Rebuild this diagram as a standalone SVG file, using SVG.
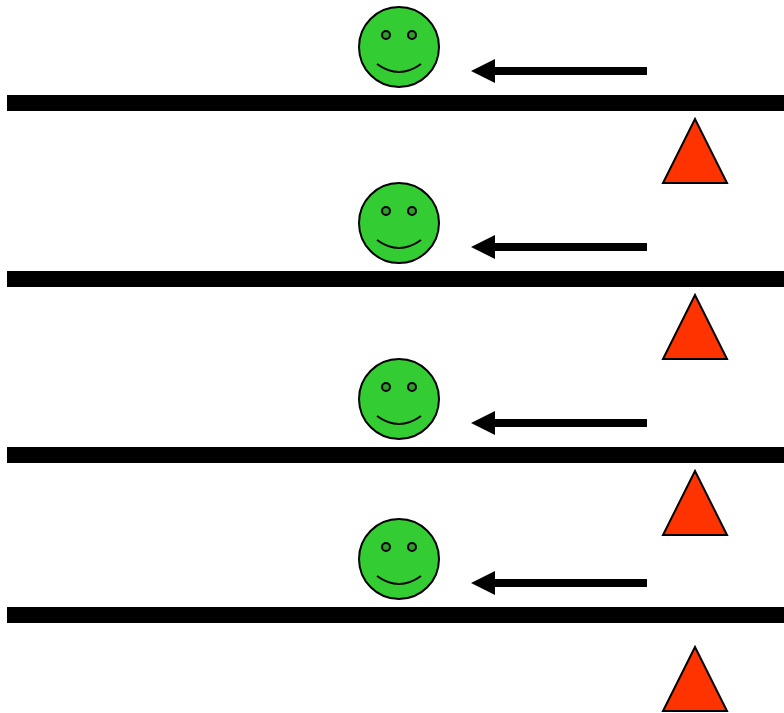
<svg xmlns="http://www.w3.org/2000/svg" width="784" height="713" viewBox="0 0 784 713">
<style>
.bar{fill:#000}
.head{fill:#33cc33;stroke:#000;stroke-width:2}
.eye{fill:#2f9e2f;stroke:#000;stroke-width:2}
.smile{fill:none;stroke:#000;stroke-width:2}
.tri{fill:#ff3300;stroke:#000;stroke-width:2;stroke-linejoin:miter}
.shaft{stroke:#000;stroke-width:8;fill:none}
.tip{fill:#000}
</style>
<defs>
<g id="face">
<circle class="head" cx="399" cy="47" r="40"/>
<circle class="eye" cx="386" cy="35" r="4"/>
<circle class="eye" cx="412" cy="35" r="4"/>
<path class="smile" d="M377 64Q399 80 421 64"/>
</g>
<path id="triangle" class="tri" d="M695 119L663 183H727Z"/>
</defs>
<g id="lines">
<rect class="bar" x="7" y="95" width="777" height="16"/>
<rect class="bar" x="7" y="271" width="777" height="16"/>
<rect class="bar" x="7" y="447" width="777" height="16"/>
<rect class="bar" x="7" y="607" width="777" height="16"/>
</g>
<g id="connectors">
<path class="shaft" d="M647 71H490"/><path class="tip" d="M471 71L495 59V83Z"/>
<path class="shaft" d="M647 247H490"/><path class="tip" d="M471 247L495 235V259Z"/>
<path class="shaft" d="M647 423H490"/><path class="tip" d="M471 423L495 411V435Z"/>
<path class="shaft" d="M647 583H490"/><path class="tip" d="M471 583L495 571V595Z"/>
</g>
<g id="face1"><use href="#face"/></g>
<g id="face2"><use href="#face" y="176"/></g>
<g id="face3"><use href="#face" y="352"/></g>
<g id="face4"><use href="#face" y="512"/></g>
<g id="triangle1"><use href="#triangle"/></g>
<g id="triangle2"><use href="#triangle" y="176"/></g>
<g id="triangle3"><use href="#triangle" y="352"/></g>
<g id="triangle4"><use href="#triangle" y="528"/></g>
</svg>
